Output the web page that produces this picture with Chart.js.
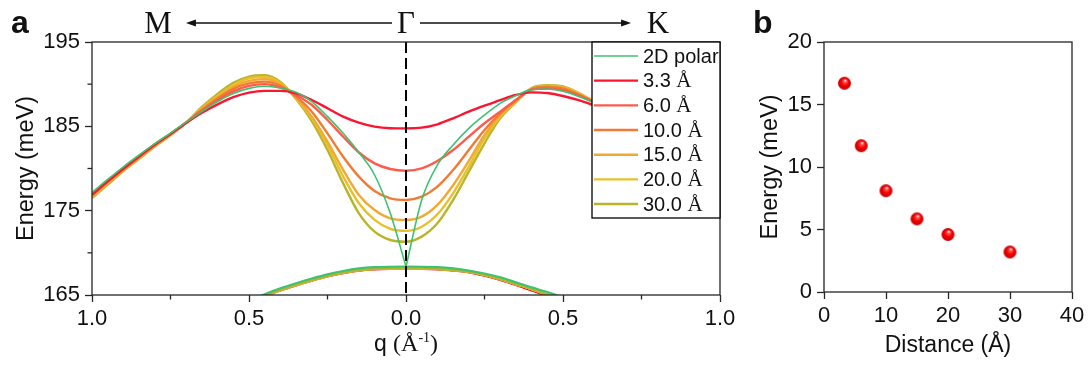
<!DOCTYPE html>
<html>
<head>
<meta charset="utf-8">
<title>Dispersion near Γ and gap vs distance</title>
<script src="https://cdn.jsdelivr.net/npm/chart.js@4.4.1/dist/chart.umd.min.js"></script>
<style>
  html, body { margin: 0; padding: 0; background: #fff; }
  #wrap { position: relative; width: 1091px; height: 367px; overflow: hidden; }
  #chartA { position: absolute; left: 0; top: 0; }
  #chartB { position: absolute; left: 745px; top: 0; }
</style>
</head>
<body>
<div id="wrap">
  <canvas id="chartA" width="745" height="367"></canvas>
  <canvas id="chartB" width="346" height="367"></canvas>
</div>
<script>
// ---- panel a data: q < 0 is the Γ->M side, q > 0 the Γ->K side (Å^-1)
const qGrid = [-1, -0.95, -0.9, -0.85, -0.8, -0.75, -0.7, -0.65, -0.6, -0.55, -0.5, -0.45, -0.4, -0.35, -0.3, -0.25, -0.2, -0.15, -0.1, -0.05,
  0, 0.05, 0.1, 0.15, 0.2, 0.25, 0.3, 0.35, 0.4, 0.45, 0.5, 0.55, 0.6, 0.65, 0.7, 0.75, 0.8, 0.85, 0.9, 0.95, 1];

// upper branch, meV
const upper2D  = [177.15, 178.7, 180.2, 181.6, 182.95, 184.2, 185.5, 186.75, 187.95, 188.9, 189.5, 189.75, 189.55, 189.03, 187.93, 186.15, 184.17, 181.9, 179.23, 174.68,
  168.36, 176.27, 180.42, 182.79, 184.76, 186.34, 187.73, 188.64, 189.35, 189.43, 189.15, 188.55, 187.8, 186.9, 185.6, 184.25, 182.9, 181.5, 180.1, 178.6, 177.1];
const upper33  = [176.9, 178.5, 180.0, 181.45, 182.85, 184.1, 185.4, 186.6, 187.6, 188.45, 189.0, 189.2, 189.2, 188.91, 188.12, 187.14, 186.15, 185.44, 184.96, 184.78,
  184.76, 184.84, 185.24, 185.95, 186.74, 187.45, 188.12, 188.72, 189.03, 188.95, 188.6, 188.1, 187.45, 186.6, 185.4, 184.1, 182.8, 181.4, 179.95, 178.45, 176.9];
const upper60  = [176.85, 178.45, 179.95, 181.4, 182.8, 184.1, 185.45, 186.85, 188.1, 189.15, 189.8, 190.0, 189.6, 188.72, 187.53, 185.75, 183.77, 181.9, 180.61, 179.94,
  179.74, 180.02, 180.89, 182.19, 183.77, 185.36, 186.74, 188.12, 189.35, 189.47, 189.27, 188.63, 187.8, 186.9, 185.6, 184.25, 182.85, 181.45, 180.0, 178.5, 176.9];
const upper100 = [176.8, 178.4, 179.9, 181.35, 182.75, 184.1, 185.45, 186.95, 188.3, 189.45, 190.1, 190.3, 189.8, 188.52, 186.74, 184.17, 181.4, 179.03, 177.33, 176.46,
  176.27, 176.66, 177.85, 179.82, 182.19, 184.57, 186.54, 188.12, 189.4, 189.66, 189.47, 188.75, 187.85, 186.9, 185.6, 184.25, 182.85, 181.45, 180.0, 178.5, 176.85];
const upper150 = [176.75, 178.35, 179.85, 181.3, 182.7, 184.05, 185.45, 187.05, 188.45, 189.7, 190.4, 190.6, 190.0, 188.4, 186.15, 183.18, 179.82, 176.86, 175.08, 174.09,
  173.9, 174.29, 175.68, 178.02, 180.89, 183.97, 186.34, 188.0, 189.45, 189.74, 189.58, 188.83, 187.88, 186.9, 185.6, 184.25, 182.85, 181.45, 180.0, 178.5, 176.8];
const upper200 = [176.65, 178.25, 179.8, 181.25, 182.65, 184.0, 185.45, 187.15, 188.6, 189.9, 190.7, 190.85, 190.15, 188.32, 185.95, 182.79, 179.03, 175.87, 173.9, 172.83,
  172.6, 173.1, 174.57, 177.06, 180.22, 183.58, 186.15, 187.93, 189.5, 189.79, 189.66, 188.91, 187.9, 186.9, 185.6, 184.25, 182.85, 181.45, 180.0, 178.5, 176.75];
const upper300 = [176.5, 178.1, 179.7, 181.15, 182.6, 183.95, 185.45, 187.3, 188.85, 190.15, 190.9, 191.05, 190.25, 188.24, 185.63, 182.19, 178.24, 174.68, 172.51, 171.52,
  171.32, 171.92, 173.5, 176.27, 179.62, 182.99, 185.95, 187.85, 189.55, 189.87, 189.74, 188.95, 187.92, 186.9, 185.6, 184.25, 182.85, 181.45, 180.0, 178.5, 176.7];

// lower branch, only the part near Γ is inside the window
const qLow = [-0.55, -0.5, -0.45, -0.4, -0.35, -0.3, -0.25, -0.2, -0.15, -0.1, -0.05, 0, 0.05, 0.1, 0.15, 0.2, 0.25, 0.3, 0.35, 0.4, 0.45, 0.5, 0.55];
const lower2D   = [163.5, 164.3, 165.1, 165.8, 166.4, 166.95, 167.45, 167.85, 168.15, 168.3, 168.35, 168.36, 168.35, 168.3, 168.15, 167.9, 167.55, 167.1, 166.5, 165.9, 165.35, 164.7, 163.9];
const lower33   = [163.2, 164.0, 164.85, 165.55, 166.15, 166.7, 167.2, 167.6, 167.9, 168.05, 168.12, 168.14, 168.12, 168.05, 167.9, 167.7, 167.3, 166.8, 166.2, 165.55, 164.9, 164.15, 163.4];
const lowerDist = [163.3, 164.1, 164.9, 165.6, 166.2, 166.75, 167.25, 167.65, 167.95, 168.1, 168.15, 168.16, 168.15, 168.1, 167.95, 167.75, 167.4, 166.9, 166.3, 165.7, 165.05, 164.35, 163.6];

const seriesLabels = ['2D polar', '3.3 Å', '6.0 Å', '10.0 Å', '15.0 Å', '20.0 Å', '30.0 Å'];
const upperBands = [upper2D, upper33, upper60, upper100, upper150, upper200, upper300];
const lowerBands = [lower2D, lower33, lowerDist, lowerDist, lowerDist, lowerDist, lowerDist];
const seriesColors = ['#3fc270', '#fb1530', '#ff5a4c', '#f27a32', '#f2a932', '#e8c02c', '#b9b42a'];

const xTicksA = [-1, -0.5, 0, 0.5, 1];
const xMinorA = [-0.75, -0.25, 0.25, 0.75];
const yTicksA = [165, 175, 185, 195];
const yMinorA = [170, 180, 190];

// ---- panel b data
const distB = [3.3, 6, 10, 15, 20, 30];
const gapB = [16.7, 11.7, 8.1, 5.85, 4.6, 3.2];
const xTicksB = [0, 10, 20, 30, 40];
const yTicksB = [0, 5, 10, 15, 20];

const SANS = '"Liberation Sans", Arial, sans-serif';
const SERIF = '"Liberation Serif", "Times New Roman", serif';
const AXIS = '#262626';

Chart.defaults.font.family = SANS;
Chart.defaults.color = '#111';

function pts(xs, ys) {
  return xs.map((x, i) => ({ x: x, y: ys[i] }));
}

function curve(data, color, width, order) {
  return {
    data: data,
    borderColor: color,
    borderWidth: width,
    pointRadius: 0,
    cubicInterpolationMode: 'monotone',
    fill: false,
    clip: 0,
    order: order
  };
}

// lower branch stacking: green on top, then olive ... red at the bottom
const lowerOrder = [1, 7, 6, 5, 4, 3, 2];

const mid = qGrid.indexOf(0);
const datasetsA = [];
seriesLabels.forEach((lab, k) => {
  const w = k === 0 ? 1.6 : 2.4;
  const up = pts(qGrid, upperBands[k]);
  if (k === 0) {
    // 2D polar has a cusp at Γ, so the two sides are separate lines
    datasetsA.push(curve(up.slice(0, mid + 1), seriesColors[k], w, 0));
    datasetsA.push(curve(up.slice(mid), seriesColors[k], w, 0));
  } else {
    datasetsA.push(curve(up, seriesColors[k], w, 0));
  }
  datasetsA.push(curve(pts(qLow, lowerBands[k]), seriesColors[k], k === 0 ? 2.2 : 2.4, lowerOrder[k]));
});

function axisGrid() {
  return { display: true, drawOnChartArea: false, drawTicks: true, tickLength: 7, tickWidth: 1.3, tickColor: AXIS };
}

function drawFrame(ctx, a) {
  ctx.save();
  ctx.strokeStyle = AXIS;
  ctx.lineWidth = 1.3;
  ctx.strokeRect(a.left, a.top, a.right - a.left, a.bottom - a.top);
  ctx.restore();
}

function drawArrow(ctx, x0, x1, y) {
  const dir = Math.sign(x1 - x0);
  ctx.beginPath();
  ctx.moveTo(x0, y);
  ctx.lineTo(x1 - dir * 8, y);
  ctx.stroke();
  ctx.beginPath();
  ctx.moveTo(x1, y);
  ctx.lineTo(x1 - dir * 10, y - 3.5);
  ctx.lineTo(x1 - dir * 10, y + 3.5);
  ctx.closePath();
  ctx.fill();
}

// draws text pieces in a row, centred on cx
function drawPieces(ctx, pieces, cx, baseY) {
  let total = 0;
  pieces.forEach(p => { ctx.font = p.font; p.w = ctx.measureText(p.text).width; total += p.w; });
  let x = cx - total / 2;
  ctx.textAlign = 'left';
  ctx.textBaseline = 'alphabetic';
  pieces.forEach(p => {
    ctx.font = p.font;
    ctx.fillText(p.text, x, baseY + (p.dy || 0));
    x += p.w;
  });
}

const panelA = {
  id: 'panelA',
  afterDatasetsDraw(chart) {
    const { ctx, chartArea: a, scales: { x } } = chart;
    const gx = x.getPixelForValue(0);
    ctx.save();
    ctx.strokeStyle = '#000';
    ctx.lineWidth = 2;
    ctx.setLineDash([11, 5]);
    ctx.beginPath();
    ctx.moveTo(gx, a.top);
    ctx.lineTo(gx, a.bottom);
    ctx.stroke();
    ctx.restore();
  },
  afterDraw(chart) {
    const { ctx, chartArea: a, scales: { x, y } } = chart;
    drawFrame(ctx, a);
    ctx.save();
    ctx.strokeStyle = AXIS;
    ctx.lineWidth = 1.3;
    // minor ticks
    yMinorA.forEach(v => {
      const py = y.getPixelForValue(v);
      ctx.beginPath(); ctx.moveTo(a.left - 4.5, py); ctx.lineTo(a.left, py); ctx.stroke();
    });
    xMinorA.forEach(v => {
      const px = x.getPixelForValue(v);
      ctx.beginPath(); ctx.moveTo(px, a.bottom); ctx.lineTo(px, a.bottom + 4.5); ctx.stroke();
    });

    // legend
    const lw = 128, lh = 176, lx = a.right - lw, ly = a.top;
    ctx.fillStyle = '#fff';
    ctx.fillRect(lx, ly, lw, lh);
    ctx.strokeStyle = '#000';
    ctx.lineWidth = 1.3;
    ctx.strokeRect(lx, ly, lw, lh);
    seriesLabels.forEach((lab, k) => {
      const ry = ly + 14 + k * 24.67;
      ctx.strokeStyle = seriesColors[k];
      ctx.lineWidth = k === 0 ? 1.6 : 2.4;
      ctx.beginPath(); ctx.moveTo(lx + 2, ry); ctx.lineTo(lx + 46, ry); ctx.stroke();
      ctx.fillStyle = '#111';
      ctx.textAlign = 'left';
      ctx.textBaseline = 'middle';
      const cut = lab.lastIndexOf(' ');
      if (lab.endsWith('Å')) {
        const num = lab.slice(0, cut + 1);
        ctx.font = '20px ' + SANS;
        ctx.fillText(num, lx + 51, ry + 1);
        const w = ctx.measureText(num).width;
        ctx.font = '21px ' + SERIF;
        ctx.fillText('Å', lx + 51 + w, ry + 1);
      } else {
        ctx.font = '20px ' + SANS;
        ctx.fillText(lab, lx + 51, ry + 1);
      }
    });

    // high-symmetry labels and arrows on top
    const gx = x.getPixelForValue(0);
    const mx = x.getPixelForValue(-0.79);
    const kx = x.getPixelForValue(0.79);
    ctx.fillStyle = '#111';
    ctx.font = '31px ' + SERIF;
    ctx.textAlign = 'center';
    ctx.textBaseline = 'alphabetic';
    ctx.fillText('M', mx, 33);
    ctx.fillText('Γ', gx, 33);
    ctx.fillText('K', kx + 4, 33);
    ctx.strokeStyle = '#111';
    ctx.lineWidth = 1.3;
    drawArrow(ctx, gx - 14, mx + 28, 23);
    drawArrow(ctx, gx + 14, kx - 23, 23);

    // x axis title with mixed fonts
    ctx.fillStyle = '#111';
    drawPieces(ctx, [
      { text: 'q ', font: '23px ' + SANS },
      { text: '(Å', font: '24px ' + SERIF },
      { text: '-1', font: '14px ' + SERIF, dy: -9 },
      { text: ')', font: '24px ' + SERIF }
    ], (a.left + a.right) / 2, 351);

    // panel letter
    ctx.font = 'bold 32px ' + SANS;
    ctx.textAlign = 'left';
    ctx.fillText('a', 11, 33);
    ctx.restore();
  }
};

new Chart(document.getElementById('chartA'), {
  type: 'line',
  data: { datasets: datasetsA },
  options: {
    responsive: false,
    animation: false,
    devicePixelRatio: 1,
    events: [],
    layout: { padding: { top: 42, right: 25, left: 0, bottom: 0 } },
    plugins: { legend: { display: false }, tooltip: { enabled: false } },
    scales: {
      x: {
        type: 'linear',
        min: -1,
        max: 1,
        afterBuildTicks: s => { s.ticks = xTicksA.map(v => ({ value: v })); },
        afterFit: s => { s.height = 72; },
        grid: axisGrid(),
        border: { display: false },
        ticks: { font: { size: 22 }, padding: 4, maxRotation: 0, callback: v => Math.abs(v).toFixed(1) }
      },
      y: {
        min: 165,
        max: 195,
        afterBuildTicks: s => { s.ticks = yTicksA.map(v => ({ value: v })); },
        afterFit: s => { s.width = 92; },
        grid: axisGrid(),
        border: { display: false },
        ticks: { font: { size: 22 }, padding: 5, callback: v => String(v) },
        title: { display: true, text: 'Energy (meV)', font: { size: 23.5 }, padding: { top: 12, bottom: 0 } }
      }
    }
  },
  plugins: [panelA]
});

// glossy red ball used as the point marker in panel b
function sphereImage(r) {
  const c = document.createElement('canvas');
  const size = Math.ceil(2 * r + 2);
  c.width = c.height = size;
  const g = c.getContext('2d');
  const cx = size / 2;
  const grad = g.createRadialGradient(cx + r * 0.15, cx - r * 0.45, r * 0.05, cx, cx, r);
  grad.addColorStop(0, '#ffffff');
  grad.addColorStop(0.2, '#ff5050');
  grad.addColorStop(0.55, '#f50000');
  grad.addColorStop(1, '#c40000');
  g.fillStyle = grad;
  g.beginPath();
  g.arc(cx, cx, r, 0, Math.PI * 2);
  g.fill();
  return c;
}

const panelB = {
  id: 'panelB',
  afterDraw(chart) {
    const { ctx, chartArea: a } = chart;
    drawFrame(ctx, a);
    ctx.save();
    ctx.fillStyle = '#111';
    ctx.font = 'bold 32px ' + SANS;
    ctx.textAlign = 'left';
    ctx.textBaseline = 'alphabetic';
    ctx.fillText('b', 8, 33);
    ctx.restore();
  }
};

new Chart(document.getElementById('chartB'), {
  type: 'scatter',
  data: {
    datasets: [{
      data: pts(distB, gapB),
      pointStyle: sphereImage(6.5),
      pointRadius: 7,
      borderWidth: 0,
      clip: false
    }]
  },
  options: {
    responsive: false,
    animation: false,
    devicePixelRatio: 1,
    events: [],
    layout: { padding: { top: 42, right: 19, left: 0, bottom: 0 } },
    plugins: { legend: { display: false }, tooltip: { enabled: false } },
    scales: {
      x: {
        type: 'linear',
        min: 0,
        max: 40,
        afterBuildTicks: s => { s.ticks = xTicksB.map(v => ({ value: v })); },
        afterFit: s => { s.height = 75; },
        grid: axisGrid(),
        border: { display: false },
        ticks: { font: { size: 22 }, padding: 4, maxRotation: 0, callback: v => String(v) },
        title: { display: true, text: 'Distance (Å)', font: { size: 23 }, padding: { top: 0, bottom: 8 } }
      },
      y: {
        min: 0,
        max: 20,
        afterBuildTicks: s => { s.ticks = yTicksB.map(v => ({ value: v })); },
        afterFit: s => { s.width = 79; },
        grid: axisGrid(),
        border: { display: false },
        ticks: { font: { size: 22 }, padding: 5, callback: v => String(v) },
        title: { display: true, text: 'Energy (meV)', font: { size: 23.5 }, padding: { top: 11, bottom: 0 } }
      }
    }
  },
  plugins: [panelB]
});
</script>
</body>
</html>
